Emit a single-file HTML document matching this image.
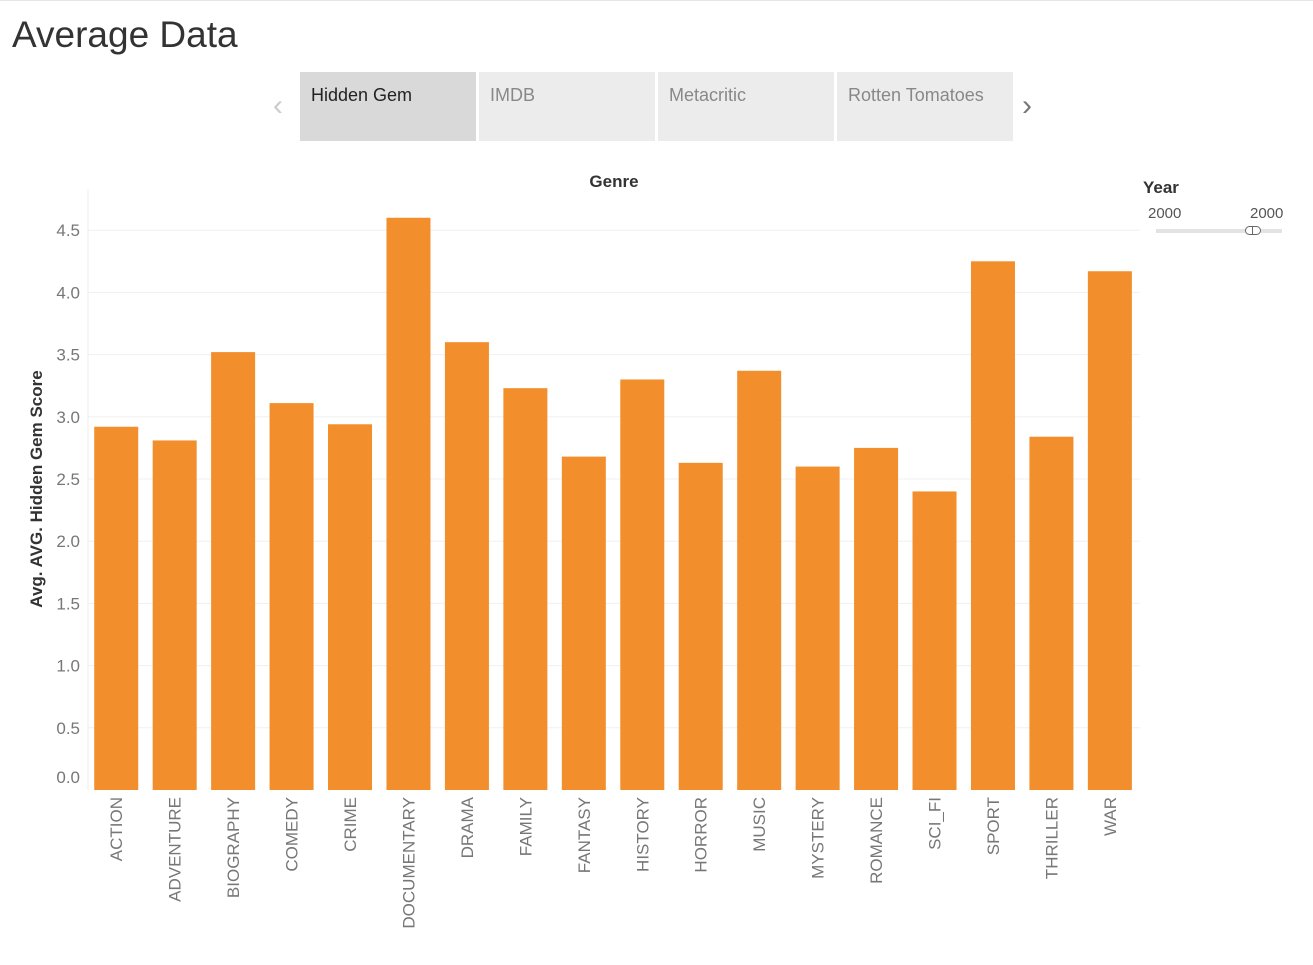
<!DOCTYPE html>
<html><head><meta charset="utf-8"><style>
body{margin:0;background:#fff;font-family:"Liberation Sans","DejaVu Sans",sans-serif;}
.wrap{position:relative;width:1313px;height:965px;overflow:hidden;border-top:1px solid #e6e6e6;box-sizing:border-box}
.title{position:absolute;left:12px;top:13px;font-size:37px;color:#333}
.tab{position:absolute;top:71px;height:69px;width:176px;background:#ececec;font-size:18px;color:#888;box-sizing:border-box;padding:13px 0 0 11px}
.tab.sel{background:#d9d9d9;color:#222}
</style></head><body>
<div class="wrap">
<div class="title">Average Data</div>
<div style="position:absolute;left:273px;top:88px;font-size:30px;color:#ccc">&#8249;</div>
<div class="tab sel" style="left:300px">Hidden Gem</div>
<div class="tab" style="left:479px">IMDB</div>
<div class="tab" style="left:658px">Metacritic</div>
<div class="tab" style="left:837px">Rotten Tomatoes</div>
<div style="position:absolute;left:1022px;top:88px;font-size:30px;color:#777">&#8250;</div>
<div style="position:absolute;left:1143px;top:177px;font-size:17px;color:#333;font-weight:bold">Year</div>
<div style="position:absolute;left:1148px;top:204px;font-size:15px;color:#555">2000</div>
<div style="position:absolute;left:1250px;top:204px;font-size:15px;color:#555">2000</div>
<div style="position:absolute;left:1156px;top:228px;width:126px;height:4px;background:#e3e3e3"></div>
<div style="position:absolute;left:1245px;top:225px;width:16px;height:9px;border:1px solid #666;border-radius:5px;background:#fff;box-sizing:border-box"><div style="position:absolute;left:6px;top:0;width:1px;height:7px;background:#666"></div></div>
<svg id="chart" width="1313" height="965" style="position:absolute;left:0;top:0"></svg>
</div>
<script>
const categories=["ACTION","ADVENTURE","BIOGRAPHY","COMEDY","CRIME","DOCUMENTARY","DRAMA","FAMILY","FANTASY","HISTORY","HORROR","MUSIC","MYSTERY","ROMANCE","SCI_FI","SPORT","THRILLER","WAR"];
const values=[2.92,2.81,3.52,3.11,2.94,4.60,3.60,3.23,2.68,3.30,2.63,3.37,2.60,2.75,2.40,4.25,2.84,4.17];
const ticks=[0,0.5,1,1.5,2,2.5,3,3.5,4,4.5];
const tickLabels=["0.0","0.5","1.0","1.5","2.0","2.5","3.0","3.5","4.0","4.5"];
const svg=document.getElementById('chart');
const NS='http://www.w3.org/2000/svg';
const y0=789,perUnit=124.4,x0=86,band=58.45,bw=44;
const yS=v=>y0-v*perUnit;
const xS=i=>x0+i*band+(band-bw)/2+1;
function mk(t,a){const e=document.createElementNS(NS,t);for(const k in a)e.setAttribute(k,a[k]);svg.appendChild(e);return e;}
ticks.forEach((t,i)=>{
 if(t>0){const g=mk('line',{x1:88,x2:1140,y1:yS(t),y2:yS(t),stroke:'#f0f0f0'});
 
 }
 const l=mk('text',{x:80,y:t===0?yS(t)-7:yS(t)+6,'text-anchor':'end','font-size':17,fill:'#777'});
 l.textContent=tickLabels[i];
 
 
});
const ax=mk('line',{x1:88,x2:88,y1:188,y2:789,stroke:'#eee'});


categories.forEach((c,i)=>{
 const r=mk('rect',{x:xS(i),y:yS(values[i]),width:bw,height:values[i]*perUnit,fill:'#f28e2b'});
 
 
 const cx=xS(i)+bw/2+6;
 const t=mk('text',{x:cx,y:796,transform:`rotate(-90 ${cx} 796)`,'text-anchor':'end','font-size':17,fill:'#777'});
 t.textContent=c;
 
 
});
const xt=mk('text',{x:614,y:186,'text-anchor':'middle','font-size':17,fill:'#333','font-weight':'bold'});
xt.textContent='Genre';


const yt=mk('text',{x:42,y:488,transform:'rotate(-90 42 488)','text-anchor':'middle','font-size':17,fill:'#333','font-weight':'bold'});
yt.textContent='Avg. AVG. Hidden Gem Score';


</script>
</body></html>
